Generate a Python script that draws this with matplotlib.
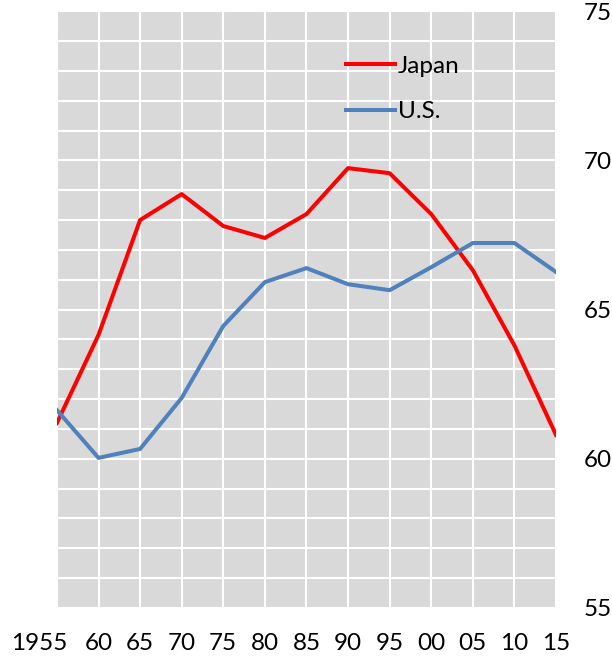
import matplotlib
matplotlib.use("Agg")
import matplotlib.pyplot as plt
import matplotlib.transforms as mtransforms

years = [1955, 1960, 1965, 1970, 1975, 1980, 1985, 1990, 1995, 2000, 2005, 2010, 2015]
japan = [61.2, 64.15, 68.0, 68.87, 67.8, 67.4, 68.2, 69.74, 69.57, 68.2, 66.32, 63.8, 60.8]
us = [61.63, 60.03, 60.33, 62.04, 64.45, 65.92, 66.39, 65.85, 65.65, 66.42, 67.23, 67.23, 66.26]
xlabels = ["1955", "60", "65", "70", "75", "80", "85", "90", "95", "00", "05", "10", "15"]
yticks = [55, 60, 65, 70, 75]

plt.rcParams['font.family'] = ['Lato', 'DejaVu Sans']

fig = plt.figure(figsize=(6.12, 6.57), dpi=100)
ax = fig.add_axes([0.093, 0.0746, 0.8155, 0.9084])
ax.set_facecolor("#D9D9D9")

ax.plot(years, japan, color="#FF0000", lw=2.9, label="Japan")
ax.plot(years, us, color="#4F81BD", lw=2.9, label="U.S.")

ax.set_xlim(1955, 2015)
ax.set_ylim(55, 75)
ax.set_xticks(years)
ax.set_xticklabels(xlabels)
ax.set_yticks(yticks)
ax.set_yticks(range(55, 76), minor=True)
ax.yaxis.tick_right()
ax.grid(True, which="both", color="white", lw=1.5)
ax.set_axisbelow(True)
for s in ax.spines.values():
    s.set_visible(False)
ax.tick_params(axis="both", which="both", length=0, labelsize=17.5)
ax.tick_params(axis="x", pad=18)
ax.tick_params(axis="y", pad=20)

# first label sits left of its gridline
lbl = ax.get_xticklabels()[0]
lbl.set_transform(lbl.get_transform() + mtransforms.ScaledTranslation(-0.18, 0, fig.dpi_scale_trans))

leg = ax.legend(loc="upper left", bbox_to_anchor=(0.536, 0.962), frameon=False,
                fontsize=17.5, handlelength=2.0, handletextpad=0.12, labelspacing=1.0)

fig.savefig("out.png", dpi=100)
